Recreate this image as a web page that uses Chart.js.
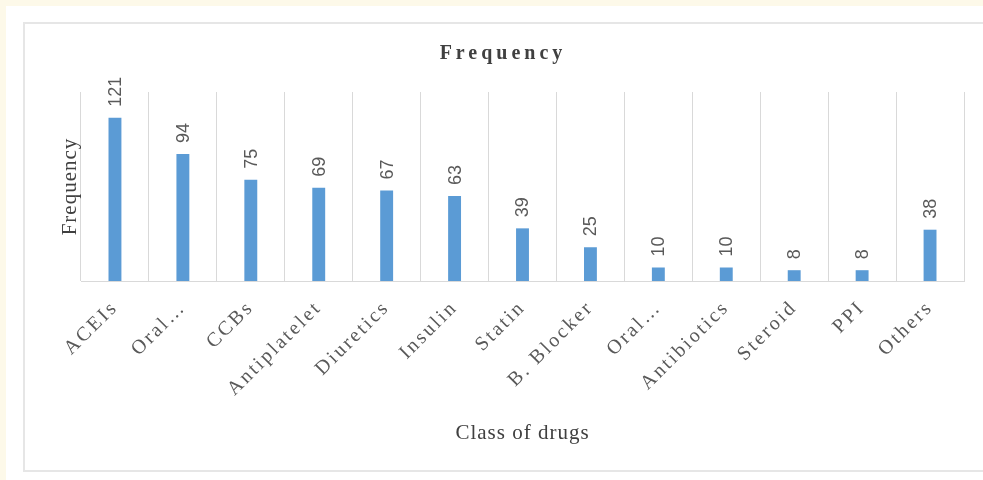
<!DOCTYPE html>
<html>
<head>
<meta charset="utf-8">
<script src="https://cdn.jsdelivr.net/npm/chart.js@4/dist/chart.umd.min.js"></script>
<style>
  html, body { margin: 0; padding: 0; width: 983px; height: 480px; overflow: hidden; background: #fdf9e9; }
  #panel { position: absolute; left: 6px; top: 6px; width: 977px; height: 474px; background: #ffffff; }
  #frame { position: absolute; left: 23px; top: 22px; width: 980px; height: 446px; border: 2px solid #e6e6e6; box-sizing: content-box; }
  #c { position: absolute; left: 0; top: 0; }
</style>
</head>
<body>
<div id="panel"></div>
<div id="frame"></div>
<canvas id="c" width="983" height="480"></canvas>
<script>
// ---- data ----
const categories = ["ACEIs", "Oral…", "CCBs", "Antiplatelet", "Diuretics", "Insulin", "Statin", "B. Blocker", "Oral…", "Antibiotics", "Steroid", "PPI", "Others"];
const frequency = [121, 94, 75, 69, 67, 63, 39, 25, 10, 10, 8, 8, 38];
const chartTitle = "Frequency";
const xTitle = "Class of drugs";
const yTitle = "Frequency";
const yMin = 0;
const yMax = 140;

// letter spacing for Excel-like serif text
const spacingPlugin = {
  id: 'spacing',
  beforeDraw(chart) {
    const ctx = chart.ctx;
    if (ctx._spacingWrapped) return;
    const orig = ctx.fillText;
    ctx.fillText = function (t, x, y, mw) {
      const f = this.font || '';
      let s = '0px';
      if (f.indexOf('bold') >= 0) s = '4px';
      else if (f.indexOf('20px') >= 0 && f.indexOf('Serif') >= 0) s = '2.5px';
      else if (f.indexOf('21px') >= 0) s = '1px';
      this.letterSpacing = s;
      const r = mw === undefined ? orig.call(this, t, x, y) : orig.call(this, t, x, y, mw);
      this.letterSpacing = '0px';
      return r;
    };
    ctx._spacingWrapped = true;
  }
};

// value labels above bars, rotated
const valueLabels = {
  id: 'valueLabels',
  afterDatasetsDraw(chart) {
    const ctx = chart.ctx;
    const meta = chart.getDatasetMeta(0);
    ctx.save();
    ctx.font = '18px "Liberation Sans"';
    ctx.fillStyle = '#595959';
    ctx.textAlign = 'left';
    ctx.textBaseline = 'middle';
    meta.data.forEach((bar, i) => {
      ctx.save();
      ctx.translate(bar.x, bar.y - 11);
      ctx.rotate(-Math.PI / 2);
      ctx.fillText(String(chart.data.datasets[0].data[i]), 0, 1);
      ctx.restore();
    });
    ctx.restore();
  }
};

new Chart(document.getElementById('c'), {
  type: 'bar',
  data: {
    labels: categories,
    datasets: [{
      label: 'Frequency',
      data: frequency,
      backgroundColor: '#5B9BD5',
      borderWidth: 0,
      barPercentage: 0.19,
      categoryPercentage: 1.0
    }]
  },
  options: {
    responsive: false,
    animation: false,
    devicePixelRatio: 1,
    layout: { padding: { left: 42, right: 19, top: 0, bottom: 0 } },
    plugins: {
      legend: { display: false },
      tooltip: { enabled: false },
      title: {
        display: true,
        text: chartTitle,
        color: '#404040',
        font: { family: '"Liberation Serif"', size: 20, weight: 'bold', lineHeight: 1.2 },
        padding: { top: 42, bottom: 26 }
      }
    },
    scales: {
      x: {
        grid: { display: true, color: '#d9d9d9', lineWidth: 1, drawTicks: false, offset: true },
        border: { display: true, color: '#d9d9d9', width: 1 },
        ticks: {
          autoSkip: false,
          minRotation: 45,
          maxRotation: 45,
          padding: 15,
          color: '#595959',
          font: { family: '"Liberation Serif"', size: 20 }
        },
        title: {
          display: true,
          text: xTitle,
          color: '#404040',
          font: { family: '"Liberation Serif"', size: 21, lineHeight: 1.2 },
          padding: { top: 0, bottom: 34 }
        },
        afterFit(scale) { scale.height = 199; }
      },
      y: {
        min: yMin,
        max: yMax,
        grid: { display: false },
        border: { display: false },
        ticks: { display: false },
        title: {
          display: true,
          text: yTitle,
          color: '#404040',
          font: { family: '"Liberation Serif"', size: 21, lineHeight: 1.2 },
          padding: { top: 16, bottom: 0 }
        },
        afterFit(scale) { scale.width = 39; }
      }
    }
  },
  plugins: [spacingPlugin, valueLabels]
});
</script>
</body>
</html>
